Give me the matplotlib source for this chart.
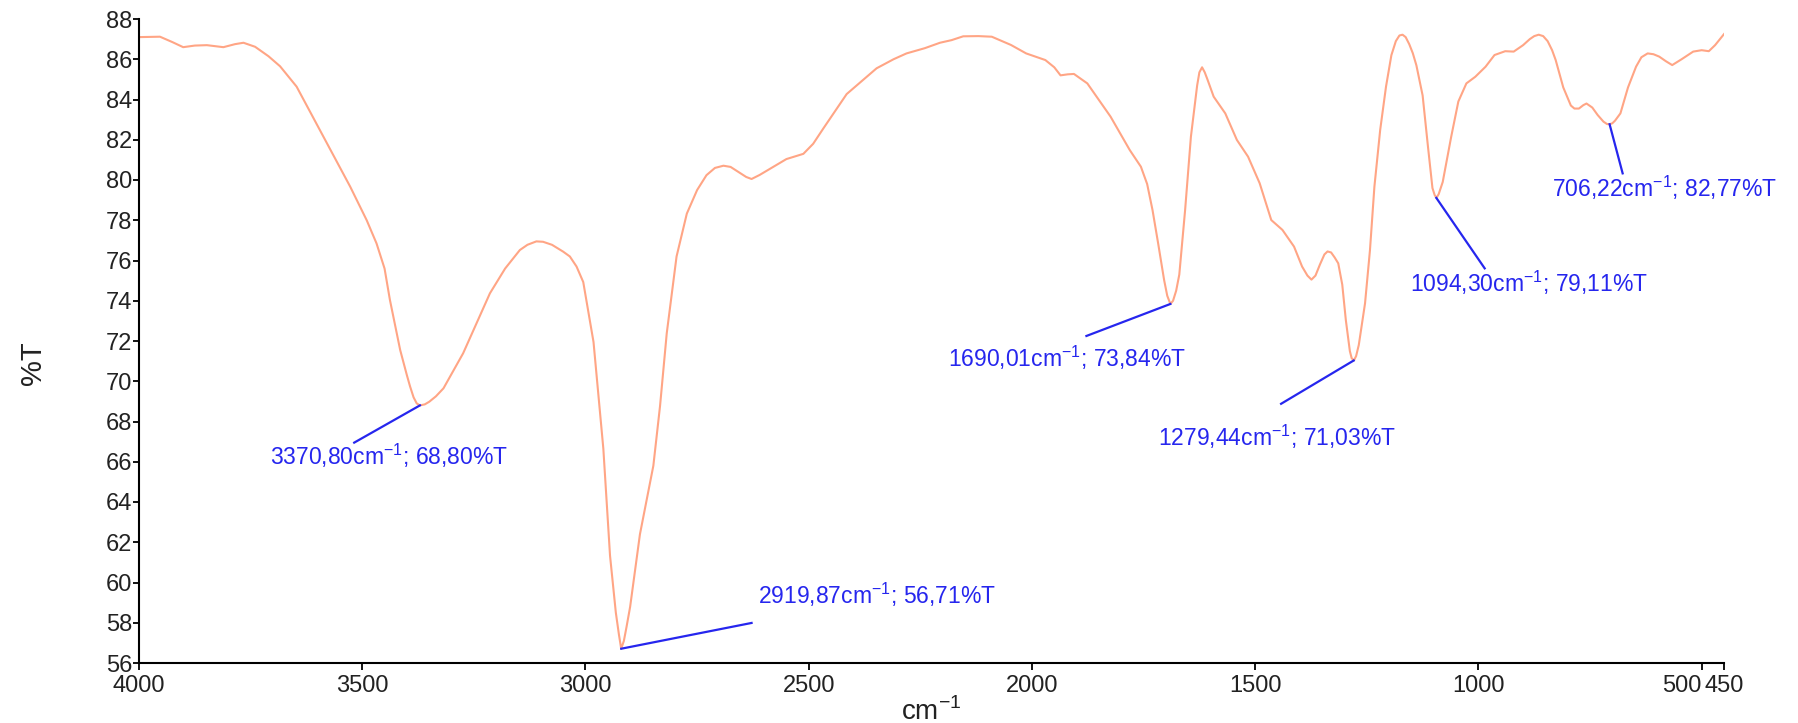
import matplotlib
matplotlib.use("Agg")
import matplotlib.pyplot as plt

plt.rcParams['font.family'] = ['Liberation Sans', 'DejaVu Sans']
plt.rcParams['mathtext.fontset'] = 'custom'
plt.rcParams['mathtext.rm'] = 'Liberation Sans'

# FTIR spectrum
wavenumber = [4000, 3953, 3925, 3901, 3875, 3848, 3811, 3785, 3766, 3740, 3710, 3684, 3647,
              3587, 3527, 3490, 3468, 3450, 3438, 3415, 3400, 3393, 3385, 3378, 3371, 3360,
              3350, 3335, 3318, 3274, 3214, 3180, 3147, 3130, 3110, 3095, 3075, 3050, 3035,
              3020, 3005, 2982, 2960, 2945, 2932, 2925, 2920, 2914, 2908, 2900, 2878, 2848,
              2833, 2818, 2796, 2773, 2750, 2729, 2710, 2691, 2675, 2661, 2640, 2628, 2610,
              2579, 2550, 2512, 2490, 2467, 2415, 2348, 2310, 2281, 2240, 2206, 2180, 2154,
              2120, 2090, 2047, 2013, 1970, 1950, 1936, 1920, 1906, 1876, 1824, 1781, 1756,
              1742, 1730, 1717, 1704, 1697, 1690, 1684, 1677, 1670, 1657, 1644, 1630, 1625,
              1619, 1613, 1607, 1593, 1567, 1541, 1516, 1490, 1464, 1439, 1413, 1395, 1383,
              1374, 1365, 1355, 1345, 1338, 1330, 1322, 1314, 1305, 1297, 1288, 1284, 1279,
              1274, 1268, 1254, 1243, 1233, 1220, 1207, 1195, 1185, 1177, 1170, 1163, 1155,
              1147, 1139, 1125, 1113, 1103, 1098, 1094, 1089, 1080, 1061, 1045, 1027, 1007,
              984, 964, 940, 921, 900, 885, 875, 865, 855, 845, 835, 827, 810, 793, 785, 775,
              765, 758, 745, 733, 720, 712, 706, 700, 694, 682, 665, 647, 635, 621, 608, 595,
              580, 566, 545, 519, 500, 484, 470, 450]
transmittance = [87.10, 87.12, 86.85, 86.60, 86.68, 86.70, 86.60, 86.75, 86.82, 86.62, 86.15,
                 85.65, 84.64, 82.15, 79.67, 78.00, 76.85, 75.60, 74.04, 71.55, 70.30, 69.75,
                 69.20, 68.90, 68.80, 68.85, 68.98, 69.25, 69.65, 71.39, 74.37, 75.60, 76.52,
                 76.78, 76.95, 76.93, 76.78, 76.44, 76.20, 75.70, 74.93, 71.95, 66.65, 61.33,
                 58.50, 57.40, 56.71, 57.10, 57.80, 58.79, 62.40, 65.80, 68.77, 72.38, 76.20,
                 78.33, 79.50, 80.24, 80.60, 80.71, 80.65, 80.45, 80.15, 80.05, 80.25, 80.66,
                 81.04, 81.30, 81.80, 82.57, 84.27, 85.55, 86.00, 86.29, 86.55, 86.82, 86.95,
                 87.14, 87.15, 87.12, 86.71, 86.29, 85.96, 85.60, 85.20, 85.25, 85.27, 84.80,
                 83.15, 81.49, 80.66, 79.80, 78.51, 76.80, 75.03, 74.25, 73.84, 74.00, 74.50,
                 75.30, 78.50, 82.15, 84.70, 85.35, 85.60, 85.35, 85.00, 84.14, 83.31, 81.99,
                 81.16, 79.84, 78.01, 77.52, 76.69, 75.70, 75.25, 75.05, 75.25, 75.80, 76.30,
                 76.45, 76.40, 76.15, 75.86, 74.80, 73.04, 71.50, 71.15, 71.03, 71.25, 71.80,
                 73.87, 76.50, 79.67, 82.50, 84.64, 86.20, 86.90, 87.18, 87.22, 87.10, 86.75,
                 86.30, 85.70, 84.20, 81.65, 79.60, 79.25, 79.11, 79.30, 79.90, 82.15, 83.90,
                 84.80, 85.13, 85.63, 86.21, 86.40, 86.38, 86.70, 87.00, 87.15, 87.22, 87.15,
                 86.90, 86.45, 85.96, 84.60, 83.70, 83.55, 83.55, 83.72, 83.80, 83.60, 83.23,
                 82.90, 82.78, 82.77, 82.82, 82.95, 83.31, 84.60, 85.63, 86.10, 86.29, 86.25,
                 86.13, 85.90, 85.71, 86.00, 86.38, 86.45, 86.40, 86.70, 87.25]

# labelled peaks
peak_x = [3370.80, 2919.87, 1690.01, 1279.44, 1094.30, 706.22]
peak_y = [68.80, 56.71, 73.84, 71.03, 79.11, 82.77]
peak_text = ['3370,80', '2919,87', '1690,01', '1279,44', '1094,30', '706,22']
peak_pct = ['68,80', '56,71', '73,84', '71,03', '79,11', '82,77']

# leader line ends and label centres (data units)
line_end_x = [3518, 2628, 1878, 1442, 986, 677]
line_end_y = [66.95, 57.99, 72.25, 68.88, 75.61, 80.33]
label_x = [3441, 2346, 1921, 1451, 887, 583]
label_y = [66.29, 59.38, 71.14, 67.23, 74.87, 79.59]

x_ticks = [4000, 3500, 3000, 2500, 2000, 1500, 1000, 500, 450]
y_ticks = list(range(56, 89, 2))

line_color = '#FFA585'
note_color = '#2626EE'
text_color = '#222222'

fig, ax = plt.subplots(figsize=(17.98, 7.23), dpi=100)
fig.subplots_adjust(left=139 / 1798, right=1724 / 1798, bottom=1 - 663 / 723, top=1 - 19 / 723)

ax.plot(wavenumber, transmittance, color=line_color, lw=1.5)

for i in range(len(peak_x)):
    ax.plot([peak_x[i], line_end_x[i]], [peak_y[i], line_end_y[i]], color=note_color, lw=1.6)
    ax.text(label_x[i], label_y[i],
            peak_text[i] + r'cm$^{\mathregular{-1}}$; ' + peak_pct[i] + '%T',
            color=note_color, fontsize=16.5, ha='center', va='center')

ax.set_xlim(4000, 450)
ax.set_ylim(56, 88)
ax.set_xticks(x_ticks)
ax.set_yticks(y_ticks)
ax.tick_params(axis='both', labelsize=17, colors='black', labelcolor=text_color, width=1.3)
ax.tick_params(axis='x', length=5, pad=4)
ax.tick_params(axis='y', length=4, pad=1)

# 500 and 450 run together, as in the original
xlabels = ax.get_xticklabels()
xlabels[7].set_horizontalalignment('right')

for side in ['top', 'right']:
    ax.spines[side].set_visible(False)
for side in ['left', 'bottom']:
    ax.spines[side].set_linewidth(1.5)

ax.set_xlabel(r'cm$^{\mathregular{-1}}$', fontsize=20, color=text_color, labelpad=0)
ax.set_ylabel('%T', fontsize=21, color=text_color)
ax.yaxis.set_label_coords(-0.058, 0.466)

plt.savefig('out.png', dpi=100)
